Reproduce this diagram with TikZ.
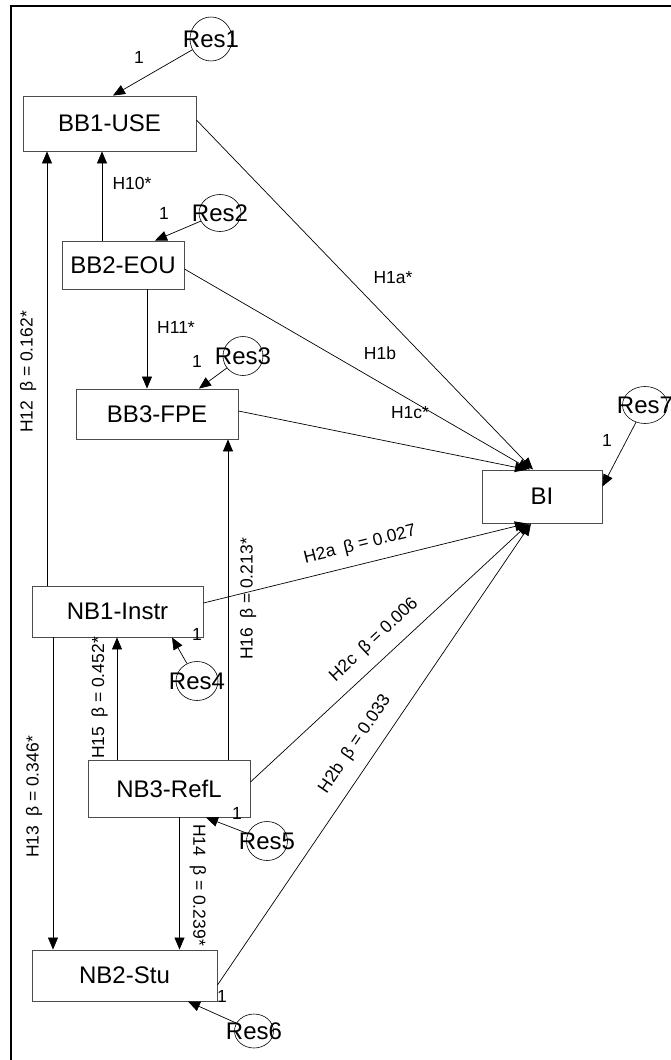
\documentclass[tikz,border=0pt]{standalone}
\usepackage{fontspec}
\setmainfont{Liberation Sans}
\usetikzlibrary{arrows.meta,shapes.geometric,calc}
\newcommand{\zw}[1]{\makebox[0pt]{#1}}
\newcommand{\gp}{\hspace{9pt}}
\begin{document}
\begin{tikzpicture}[x=1pt,y=-1pt,
  box/.style={draw=black!70, line width=0.9pt, fill=white, inner sep=0pt, font=\fontsize{24}{28}\selectfont},
  res/.style={draw, ellipse, line width=0.6pt, inner sep=0pt, font=\fontsize{24}{28}\selectfont},
  lab/.style={inner sep=0pt, font=\fontsize{17.5}{20}\selectfont},
  arr/.style={line width=0.7pt, -{Triangle[length=12pt,width=10pt]}}]
\useasboundingbox (0,0) rectangle (671,1060);
\fill[white] (0,0) rectangle (671,1060);
\draw[line width=2pt] (11,1060) -- (11,5.5) -- (671,5.5);

% boxes
\node[box, minimum width=173, minimum height=55] (BB1) at (109.5,123.5) {BB1-USE};
\node[box, minimum width=122, minimum height=48] (BB2) at (123,265) {BB2-EOU};
\node[box, minimum width=162, minimum height=50] (BB3) at (157,414) {BB3-FPE};
\node[box, minimum width=120, minimum height=53] (BI) at (542,496.5) {BI};
\node[box, minimum width=171, minimum height=51] (NB1) at (117.5,611.5) {NB1-Instr};
\node[box, minimum width=162, minimum height=57] (NB3) at (169,788.5) {NB3-RefL};
\node[box, minimum width=185, minimum height=51] (NB2) at (124.5,975.5) {NB2-Stu};

% residuals
\node[res, minimum width=42, minimum height=44] (Res1) at (211,39) {\zw{Res1}};
\node[res, minimum width=42, minimum height=37] (Res2) at (220,213) {\zw{Res2}};
\node[res, minimum width=40, minimum height=39] (Res3) at (243,356) {\zw{Res3}};
\node[res, minimum width=45, minimum height=37] (Res7) at (645,405) {\zw{Res7}};
\node[res, minimum width=42, minimum height=39] (Res4) at (197,681) {\zw{Res4}};
\node[res, minimum width=41, minimum height=39] (Res5) at (267,841) {\zw{Res5}};
\node[res, minimum width=39, minimum height=34] (Res6) at (254,1031) {\zw{Res6}};

% residual arrows
\draw[arr] (Res1) -- ([xshift=3.5pt]BB1.north);
\draw[arr] (Res2) -- ([xshift=32pt]BB2.north);
\draw[arr] (Res3) -- ([xshift=42pt]BB3.north);
\draw[arr] (Res4) -- ([xshift=54.5pt]NB1.south);
\draw[arr] (Res5) -- ([xshift=37pt]NB3.south);
\draw[arr] (Res6) -- ([xshift=63.5pt]NB2.south);
\draw[arr] (Res7) -- ([yshift=10pt]BI.east);

% vertical paths
\draw[arr] ([xshift=-21pt]BB2.north) -- ([xshift=-21pt]BB2.north |- BB1.south);
\draw[arr] ([xshift=-70.5pt]NB1.north) -- ([xshift=-70.5pt]NB1.north |- BB1.south);
\draw[arr] ([xshift=24pt]BB2.south) -- ([xshift=24pt]BB2.south |- BB3.north);
\draw[arr] ([xshift=59pt]NB3.north) -- ([xshift=59pt]NB3.north |- BB3.south);
\draw[arr] ([xshift=-52pt]NB3.north) -- ([xshift=-52pt]NB3.north |- NB1.south);
\draw[arr] ([xshift=-64.5pt]NB1.south) -- ([xshift=-64.5pt]NB1.south |- NB2.north);
\draw[arr] ([xshift=10.5pt]NB3.south) -- ([xshift=10.5pt]NB3.south |- NB2.north);

% paths to BI
\draw[arr] ([yshift=3.5pt]BB1.east) -- ([xshift=-9pt]BI.north);
\draw[arr] ([yshift=-4pt]BB2.east) -- ([xshift=-12pt]BI.north);
\draw[arr] ([yshift=3pt]BB3.east) -- ([xshift=-15pt]BI.north);
\draw[arr] ([yshift=8.5pt]NB1.east) -- ([xshift=-15pt]BI.south);
\draw[arr] ([yshift=6.5pt]NB3.east) -- ([xshift=-13pt]BI.south);
\draw[arr] ([yshift=-9.5pt]NB2.east) -- ([xshift=-11pt]BI.south);

% "1" labels
\node[lab] (one1) at (139,57) {1};
\node[lab] (one2) at (164,213) {1};
\node[lab] (one3) at (197,361) {1};
\node[lab] (one7) at (607,440) {1};
\node[lab] (one4) at (197,634) {1};
\node[lab] (one5) at (237,813) {1};
\node[lab] (one6) at (222,996) {1};

% path labels
\node[lab] (lH10) at (132,183) {H10*};
\node[lab] (lH11) at (176,327) {H11*};
\node[lab] (lH1a) at (393,278) {H1a*};
\node[lab] (lH1b) at (380,353) {H1b};
\node[lab] (lH1c) at (410,413) {H1c*};
\node[lab, rotate=90] (lH12) at (28,372) {H12\gp β = 0.162*};
\node[lab, rotate=90] (lH13) at (34,797) {H13\gp β = 0.346*};
\node[lab, rotate=90] (lH15) at (99.5,698) {H15\gp β = 0.452*};
\node[lab, rotate=90] (lH16) at (248,599) {H16\gp β = 0.213*};
\node[lab, rotate=-90] (lH14) at (198,885) {H14\gp β = 0.239*};
\node[lab, rotate=13.9] (lH2a) at (360,545) {H2a\gp β = 0.027};
\node[lab, rotate=43.1] (lH2c) at (374,640) {H2c\gp β = 0.006};
\node[lab, rotate=55.9] (lH2b) at (355,744) {H2b\gp β = 0.033};
\end{tikzpicture}
\end{document}
